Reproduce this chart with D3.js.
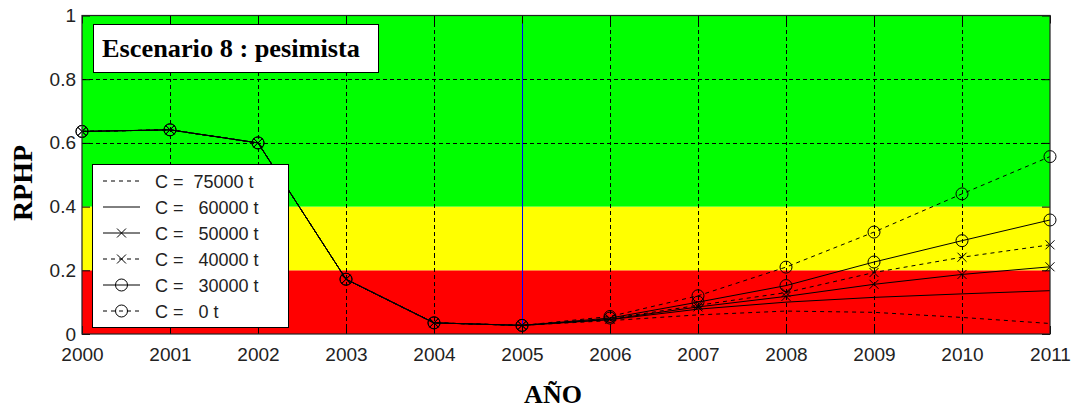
<!DOCTYPE html>
<html>
<head>
<meta charset="utf-8">
<script src="https://cdn.jsdelivr.net/npm/d3@7/dist/d3.min.js"></script>
<style>
  body { margin: 0; background: #fff; }
  svg { display: block; }
  text { white-space: pre; }
</style>
</head>
<body>
<svg id="chart" width="1073" height="410"></svg>
<script>
// Años del horizonte de análisis
const anios = [2000, 2001, 2002, 2003, 2004, 2005, 2006, 2007, 2008, 2009, 2010, 2011];

// RPHP observado (2000-2005), común a todas las capturas
const historico = [0.636, 0.641, 0.600, 0.172, 0.035, 0.027];

// Proyecciones 2006-2011 según la captura C
const proy75000 = [0.042, 0.060, 0.072, 0.068, 0.052, 0.033];
const proy60000 = [0.045, 0.078, 0.100, 0.115, 0.126, 0.136];
const proy50000 = [0.046, 0.085, 0.118, 0.156, 0.187, 0.211];
const proy40000 = [0.048, 0.090, 0.130, 0.193, 0.241, 0.280];
const proy30000 = [0.050, 0.100, 0.152, 0.226, 0.293, 0.358];
const proy0     = [0.055, 0.120, 0.210, 0.320, 0.440, 0.557];

// Etiquetas de la leyenda
const etiquetas = ["C =  75000 t", "C =   60000 t", "C =   50000 t", "C =   40000 t", "C =   30000 t", "C =   0 t"];

// Marcas del eje Y y límites de las zonas de riesgo
const ticksY = [0, 0.2, 0.4, 0.6, 0.8, 1];
const limitesZona = [0, 0.2, 0.4, 1];
const anioActual = 2005;

const svg = d3.select("#chart");

const margen = { left: 82, right: 1050, top: 15.5, bottom: 334 };
const x = d3.scaleLinear().domain([2000, 2011]).range([margen.left, margen.right]);
const y = d3.scaleLinear().domain([0, 1]).range([margen.bottom, margen.top]);

// Zonas de color: rojo, amarillo, verde
const coloresZona = ["#ff0000", "#ffff00", "#00ff00"];
const zonas = d3.pairs(limitesZona);
svg.append("g").selectAll("rect").data(zonas).join("rect")
  .attr("x", x(2000))
  .attr("width", x(2011) - x(2000))
  .attr("y", d => y(d[1]))
  .attr("height", d => y(d[0]) - y(d[1]))
  .attr("fill", (d, i) => coloresZona[i]);

// Rejilla discontinua
const rejilla = svg.append("g").attr("stroke", "#000").attr("stroke-width", 1)
  .attr("stroke-dasharray", "4,3").attr("shape-rendering", "crispEdges");
rejilla.selectAll("line.v").data(anios.filter(a => a > 2000 && a < 2011)).join("line")
  .attr("class", "v")
  .attr("x1", d => Math.round(x(d)) + 0.5).attr("x2", d => Math.round(x(d)) + 0.5)
  .attr("y1", y(1)).attr("y2", y(0));
rejilla.selectAll("line.h").data(ticksY.filter(t => t > 0.5 && t < 1)).join("line")
  .attr("class", "h")
  .attr("y1", d => Math.round(y(d)) + 0.5).attr("y2", d => Math.round(y(d)) + 0.5)
  .attr("x1", x(2000)).attr("x2", x(2011));

// Línea vertical del año actual
svg.append("line")
  .attr("x1", Math.round(x(anioActual)) + 0.5).attr("x2", Math.round(x(anioActual)) + 0.5)
  .attr("y1", y(1)).attr("y2", y(0))
  .attr("stroke", "#0000ff").attr("stroke-width", 1).attr("shape-rendering", "crispEdges");

// Series
const proyecciones = [proy75000, proy60000, proy50000, proy40000, proy30000, proy0];
const estilos = [
  { dash: "4,4", marca: null },
  { dash: null, marca: null },
  { dash: null, marca: "x" },
  { dash: "4,4", marca: "x" },
  { dash: null, marca: "o" },
  { dash: "4,4", marca: "o" }
];
const series = proyecciones.map((p, i) => ({
  valores: anios.map((a, j) => ({ anio: a, v: j < historico.length ? historico[j] : p[j - historico.length] })),
  estilo: estilos[i],
  etiqueta: etiquetas[i]
}));

const linea = d3.line().x(d => x(d.anio)).y(d => y(d.v));

function dibujarMarca(g, tipo, cx, cy) {
  if (tipo === "o") {
    g.append("circle").attr("cx", cx).attr("cy", cy).attr("r", 6)
      .attr("fill", "none").attr("stroke", "#000").attr("stroke-width", 1);
  } else if (tipo === "x") {
    const s = 4.5;
    g.append("path")
      .attr("d", `M${cx - s},${cy - s}L${cx + s},${cy + s}M${cx - s},${cy + s}L${cx + s},${cy - s}`)
      .attr("stroke", "#000").attr("stroke-width", 1).attr("fill", "none");
  }
}

const gSeries = svg.append("g");
series.forEach(s => {
  gSeries.append("path")
    .attr("d", linea(s.valores))
    .attr("fill", "none").attr("stroke", "#000").attr("stroke-width", 1)
    .attr("stroke-dasharray", s.estilo.dash);
  if (s.estilo.marca) {
    const gm = gSeries.append("g");
    s.valores.forEach(d => dibujarMarca(gm, s.estilo.marca, x(d.anio), y(d.v)));
  }
});

// Ejes con marcas hacia dentro
const fuenteEje = "'Liberation Sans', Arial, sans-serif";
const ejeX = svg.append("g").attr("transform", `translate(0,${y(0)})`)
  .call(d3.axisBottom(x).tickValues(anios).tickFormat(d3.format("d"))
    .tickSizeInner(-8).tickSizeOuter(0).tickPadding(14));
const ejeY = svg.append("g").attr("transform", `translate(${x(2000)},0)`)
  .call(d3.axisLeft(y).tickValues(ticksY).tickFormat(d => d3.format("")(d))
    .tickSizeInner(-8).tickSizeOuter(0).tickPadding(6));
const ejeSup = svg.append("g").attr("transform", `translate(0,${y(1)})`)
  .call(d3.axisTop(x).tickValues(anios).tickFormat("").tickSizeInner(-8).tickSizeOuter(0));
const ejeDer = svg.append("g").attr("transform", `translate(${x(2011)},0)`)
  .call(d3.axisRight(y).tickValues(ticksY).tickFormat("").tickSizeInner(-8).tickSizeOuter(0));
[ejeX, ejeY, ejeSup, ejeDer].forEach(g => {
  g.select(".domain").remove();
  g.selectAll(".tick line").attr("stroke", "#000");
  g.selectAll(".tick text").attr("font-family", fuenteEje).attr("font-size", 19).attr("fill", "#222");
});

// Marco del área de trazado
svg.append("rect")
  .attr("x", x(2000)).attr("y", y(1))
  .attr("width", x(2011) - x(2000)).attr("height", y(0) - y(1))
  .attr("fill", "none").attr("stroke", "#222").attr("stroke-width", 1.2);

// Leyenda
const leyenda = svg.append("g").attr("transform", "translate(92,164)");
leyenda.append("rect").attr("x", 0.5).attr("y", 0.5).attr("width", 196).attr("height", 163)
  .attr("fill", "#fff").attr("stroke", "#000").attr("stroke-width", 1);
series.forEach((s, i) => {
  const yy = 17 + i * 26;
  leyenda.append("line").attr("x1", 11).attr("x2", 48).attr("y1", yy).attr("y2", yy)
    .attr("stroke", "#000").attr("stroke-width", 1).attr("stroke-dasharray", s.estilo.dash);
  if (s.estilo.marca) dibujarMarca(leyenda, s.estilo.marca, 29.5, yy);
  leyenda.append("text").attr("x", 63).attr("y", yy + 6.5)
    .attr("font-family", fuenteEje).attr("font-size", 18).attr("fill", "#222")
    .text(s.etiqueta);
});

// Título del escenario
const titulo = svg.append("g");
titulo.append("rect").attr("x", 93.5).attr("y", 24.5).attr("width", 285).attr("height", 48)
  .attr("fill", "#fff").attr("stroke", "#000").attr("stroke-width", 1);
titulo.append("text").attr("x", 102).attr("y", 57)
  .attr("font-family", "'Liberation Serif', 'Times New Roman', serif")
  .attr("font-weight", "bold").attr("font-size", 25).attr("fill", "#000")
  .attr("textLength", 258).attr("lengthAdjust", "spacingAndGlyphs")
  .text("Escenario 8 : pesimista");

// Rótulos de los ejes
svg.append("text")
  .attr("transform", "translate(32,183) rotate(-90)")
  .attr("text-anchor", "middle")
  .attr("font-family", "'Liberation Serif', 'Times New Roman', serif")
  .attr("font-weight", "bold").attr("font-size", 28).attr("fill", "#000")
  .text("RPHP");
svg.append("text")
  .attr("x", 553).attr("y", 403)
  .attr("text-anchor", "middle")
  .attr("font-family", "'Liberation Serif', 'Times New Roman', serif")
  .attr("font-weight", "bold").attr("font-size", 26).attr("fill", "#000")
  .text("AÑO");
</script>
</body>
</html>
